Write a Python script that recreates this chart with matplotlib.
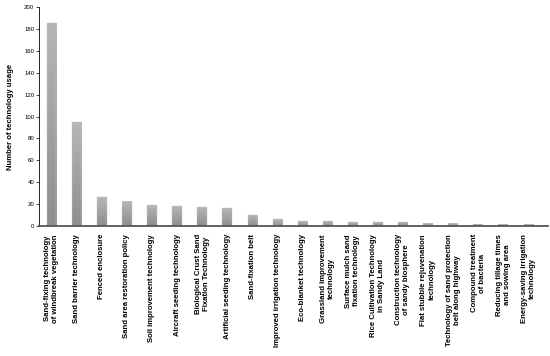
import numpy as np
import matplotlib.pyplot as plt
from matplotlib.colors import LinearSegmentedColormap

plt.rcParams['font.family'] = ['Liberation Sans', 'DejaVu Sans']

technologies = [
    "Sand-fixing technology\nof windbreak vegetation",
    "Sand barrier technology",
    "Fenced enclosure",
    "Sand area restoration policy",
    "Soil improvement technology",
    "Aircraft seeding technology",
    "Biological Crust Sand\nFixation Technology",
    "Artificial seeding technology",
    "Sand-fixation belt",
    "Improved irrigation technology",
    "Eco-blanket technology",
    "Grassland improvement\ntechnology",
    "Surface mulch sand\nfixation technology",
    "Rice Cultivation Technology\nin Sandy Land",
    "Construction technology\nof sandy biosphere",
    "Flat stubble rejuvenation\ntechnology",
    "Technology of sand protection\nbelt along highway",
    "Compound treatment\nof bacteria",
    "Reducing tillage times\nand sowing area",
    "Energy-saving irrigation\ntechnology",
]
usage = [186, 95, 26, 22, 19, 18, 17, 16, 10, 6, 4, 4, 3, 3, 3, 2, 2, 1, 1, 1]
y_ticks = list(range(0, 201, 20))

fig = plt.figure(figsize=(5.5, 3.56), dpi=100)
ax = fig.add_axes([0.071, 0.366, 0.926, 0.613])

x = np.arange(len(technologies))
bars = ax.bar(x, usage, width=0.38, color='none', edgecolor='#c4c4c4', linewidth=0.3, zorder=3)

# vertical grey gradient inside each bar (lighter on top)
cmap = LinearSegmentedColormap.from_list('grey', ['#8e8e8e', '#b6b6b6'])
grad = np.linspace(0, 1, 64).reshape(-1, 1)
for bar in bars:
    bx, bw, bh = bar.get_x(), bar.get_width(), bar.get_height()
    ax.imshow(grad, extent=[bx, bx + bw, 0, bh], origin='lower', aspect='auto',
              cmap=cmap, zorder=2)

ax.set_xlim(-0.5, 19.8)
ax.set_ylim(0, 200)
ax.set_yticks(y_ticks)
ax.tick_params(axis='y', labelsize=4.3, length=2, width=0.5, pad=1.5)
ax.set_xticks(x)
ax.set_xticklabels(technologies, rotation=90, fontsize=5.6, fontweight='bold',
                   ha='center', va='top', multialignment='center')
ax.tick_params(axis='x', length=0, pad=6)

ax.set_ylabel('Number of technology usage', fontsize=5.6, fontweight='bold', labelpad=7)

for s in ['top', 'right']:
    ax.spines[s].set_visible(False)
ax.spines['left'].set_linewidth(0.6)
ax.spines['bottom'].set_linewidth(1.3)
ax.spines['bottom'].set_color('#555555')
ax.spines['bottom'].set_zorder(4)

fig.savefig('out.png', dpi=100)
